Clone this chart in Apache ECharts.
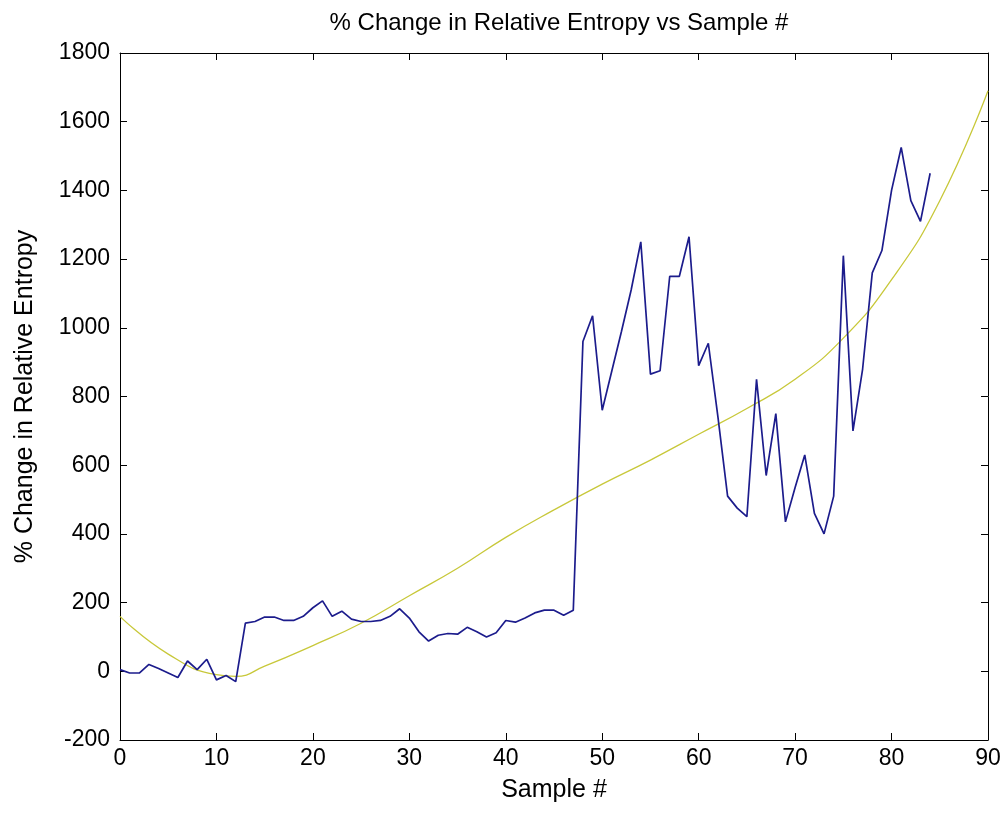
<!DOCTYPE html>
<html>
<head>
<meta charset="utf-8">
<script src="https://cdn.jsdelivr.net/npm/echarts@6/dist/echarts.min.js"></script>
<style>
  html, body { margin: 0; padding: 0; background: #fff; }
  #chart { width: 1006px; height: 814px; }
</style>
</head>
<body>
<div id="chart"></div>
<script>
  // measured relative entropy change, one value per sample 0..84
  let entropyChange = [
    5, -5, -5, 20, 8, -5, -18, 30, 5, 35,
    -25, -12, -30, 140, 145, 158, 158, 148, 148, 160,
    185, 205, 160, 175, 152, 145, 145, 148, 160, 182,
    155, 115, 88, 105, 110, 108, 128, 115, 100, 112,
    148, 143, 155, 170, 178, 178, 163, 178, 960, 1035,
    760, 875, 990, 1110, 1250, 865, 875, 1150, 1150, 1265,
    890, 955, 740, 510, 475, 450, 850, 570, 750, 435,
    535, 630, 460, 400, 510, 1210, 700, 880, 1160, 1225,
    1400, 1525, 1370, 1310, 1450
  ];

  // fitted trend every 5 samples
  let fitSamples = [0, 5, 10, 12, 15, 20, 25, 30, 35, 40, 45, 50, 55, 60, 65, 70, 75, 80, 85, 90];
  let fitValues = [160, 50, -10, -15, 15, 75, 140, 220, 300, 390, 470, 545, 615, 690, 765, 850, 970, 1140, 1370, 1690];

  let xTicks = [0, 10, 20, 30, 40, 50, 60, 70, 80, 90];
  let yTicks = [-200, 0, 200, 400, 600, 800, 1000, 1200, 1400, 1600, 1800];

  let font = "'Liberation Sans', Arial, sans-serif";

  let blueData = entropyChange.map((v, i) => [i, v]);
  let fitData = fitSamples.map((x, i) => [x, fitValues[i]]);

  let axisLine = { show: true, onZero: false, lineStyle: { color: '#000', width: 1 } };
  let tick = { show: true, inside: true, length: 7, lineStyle: { color: '#000' } };
  let plain = v => String(v);

  let option = {
    animation: false,
    backgroundColor: '#fff',
    title: {
      text: '% Change in Relative Entropy vs Sample #',
      left: 554,
      top: 6,
      textAlign: 'center',
      textStyle: { fontFamily: font, fontSize: 24, fontWeight: 'normal', color: '#000' }
    },
    grid: { left: 120, right: 18, top: 53, bottom: 74 },
    xAxis: [{
      type: 'value',
      min: xTicks[0],
      max: xTicks[xTicks.length - 1],
      interval: 10,
      name: 'Sample #',
      nameLocation: 'middle',
      nameGap: 38,
      nameTextStyle: { fontFamily: font, fontSize: 25, color: '#000' },
      axisLine: axisLine,
      axisTick: tick,
      splitLine: { show: false },
      axisLabel: { fontFamily: font, fontSize: 23, color: '#000', margin: 7, formatter: plain }
    }, {
      type: 'value',
      position: 'top',
      min: xTicks[0],
      max: xTicks[xTicks.length - 1],
      interval: 10,
      axisLine: axisLine,
      axisTick: tick,
      splitLine: { show: false },
      axisLabel: { show: false }
    }],
    yAxis: [{
      type: 'value',
      min: yTicks[0],
      max: yTicks[yTicks.length - 1],
      interval: 200,
      name: '% Change in Relative Entropy',
      nameLocation: 'middle',
      nameGap: 82,
      nameTextStyle: { fontFamily: font, fontSize: 25, color: '#000' },
      axisLine: axisLine,
      axisTick: tick,
      splitLine: { show: false },
      axisLabel: { fontFamily: font, fontSize: 23, color: '#000', margin: 10, formatter: plain }
    }, {
      type: 'value',
      position: 'right',
      min: yTicks[0],
      max: yTicks[yTicks.length - 1],
      interval: 200,
      axisLine: axisLine,
      axisTick: tick,
      splitLine: { show: false },
      axisLabel: { show: false }
    }],
    series: [{
      type: 'line',
      name: 'fit',
      data: fitData,
      smooth: 0.5,
      showSymbol: false,
      lineStyle: { color: '#c8c83a', width: 1.3 }
    }, {
      type: 'line',
      name: 'entropy',
      data: blueData,
      showSymbol: false,
      lineStyle: { color: '#1c1c8c', width: 1.7 }
    }]
  };

  let chart = echarts.init(document.getElementById('chart'));
  chart.setOption(option);
</script>
</body>
</html>
